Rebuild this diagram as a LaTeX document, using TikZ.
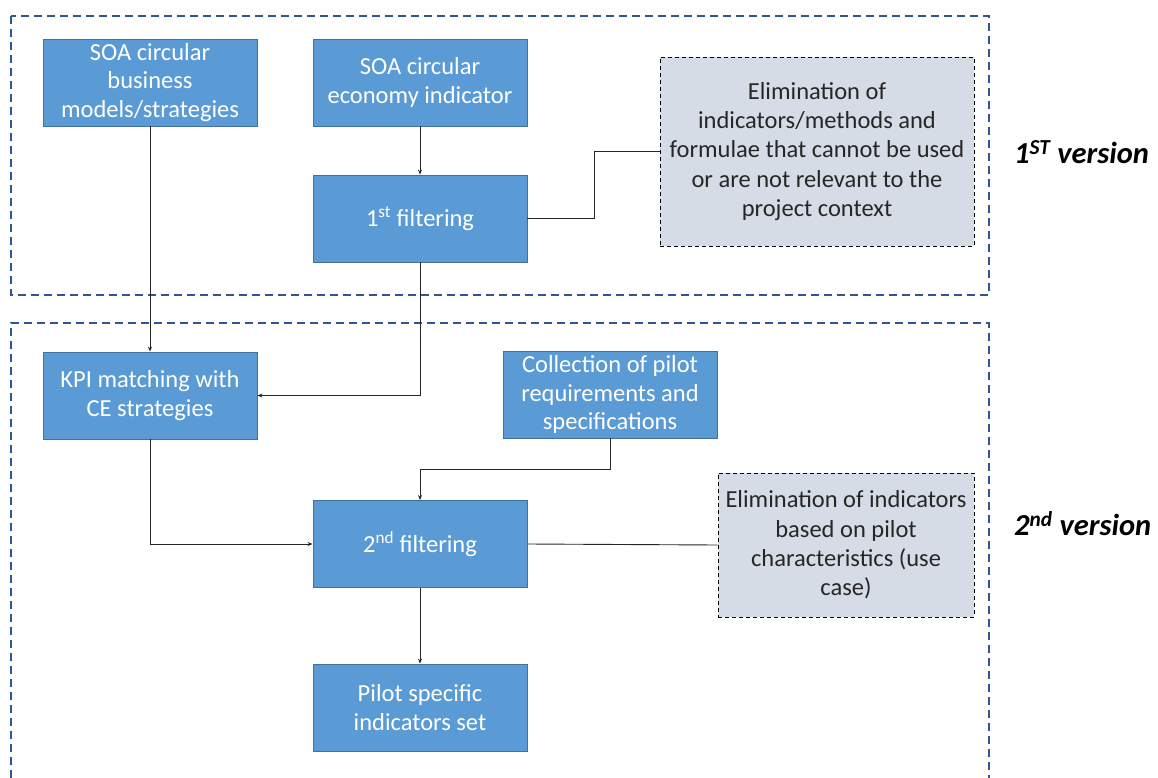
\documentclass[tikz,border=0pt]{standalone}
\usepackage{fontspec}
\setmainfont{Carlito}
\usetikzlibrary{arrows.meta}
\definecolor{boxblue}{HTML}{5B9BD5}
\definecolor{boxedge}{HTML}{41719C}
\definecolor{notegrey}{HTML}{D6DCE5}
\definecolor{framecol}{HTML}{2F5597}
\definecolor{notetext}{HTML}{262626}
\tikzset{
  proc/.style={draw=boxedge, line width=0.8pt, fill=boxblue, text=white,
    align=center, inner sep=0pt, minimum width=214pt, minimum height=87pt,
    font=\fontsize{24.5}{28.5}\selectfont},
  note/.style={draw=black, dashed, dash pattern=on 4pt off 3pt, line width=0.8pt,
    fill=notegrey, text=notetext, align=center, inner sep=0pt,
    font=\fontsize{24.5}{29.3}\selectfont},
  frame/.style={draw=framecol, line width=1.6pt, dash pattern=on 8pt off 5pt},
  link/.style={draw=black!85, line width=0.9pt},
  arrow/.style={link, -{Stealth[length=5pt,width=4pt]}},
  tag/.style={anchor=west, inner sep=0pt, font=\fontsize{30.5}{34}\selectfont\bfseries\itshape}
}
\begin{document}
\begin{tikzpicture}[x=1pt,y=-1pt]
  \useasboundingbox (0,0) rectangle (1158,778);

  % stage frames
  \draw[frame] (11,16) rectangle (989,295);
  \draw[frame] (11,778) -- (11,323) -- (989,323) -- (989,778);

  % process boxes
  \node[proc] (bm)    at (150,82.5)  {SOA circular\\business\\models/strategies};
  \node[proc] (ind)   at (420,82.5)  {SOA circular\\economy indicator};
  \node[proc] (f1)    at (420,218.5) {1\textsuperscript{st} filtering};
  \node[proc] (kpi)   at (150,395.5) {KPI matching with\\CE strategies};
  \node[proc] (coll)  at (610,394.5) {Collection of pilot\\requirements and\\specifications};
  \node[proc] (f2)    at (420,544)   {2\textsuperscript{nd} filtering};
  \node[proc] (pilot) at (420,707.5) {Pilot specific\\indicators set};

  % elimination notes
  \node[note, minimum width=314pt, minimum height=189pt] (n1) at (817,151.5)
    {Elimination of\\indicators/methods and\\formulae that cannot be used\\or are not relevant to the\\project context};
  \node[note, minimum width=256pt, minimum height=144pt] (n2) at (846,545)
    {Elimination of indicators\\based on pilot\\characteristics (use\\case)};

  % stage labels
  \node[tag] (v1) at (1014,152) {1\textsuperscript{ST} version};
  \node[tag] (v2) at (1014,524) {2\textsuperscript{nd} version};

  % connectors
  \draw[arrow] (bm.south) -- (kpi.north);
  \draw[arrow] (ind.south) -- (f1.north);
  \draw[link] (f1.east) -- ++(67,0) |- (n1.west);
  \draw[arrow] (f1.south) |- (kpi.east);
  \draw[arrow] (coll.south) -- ++(0,31) -| (f2.north);
  \draw[arrow] (kpi.south) |- (f2.west);
  \draw[link] (f2.east) -- (n2.west);
  \draw[arrow] (f2.south) -- (pilot.north);
\end{tikzpicture}
\end{document}
